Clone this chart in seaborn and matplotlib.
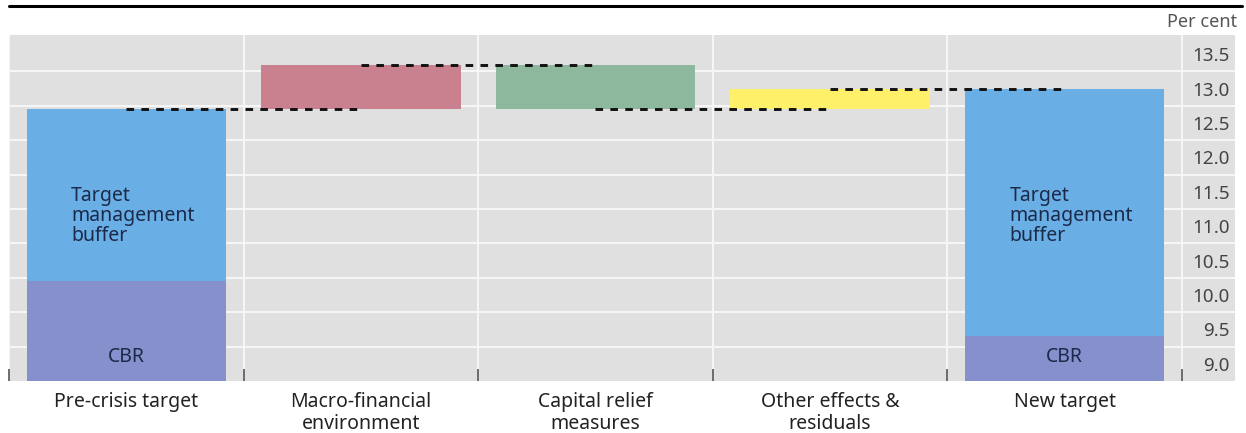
import numpy as np
import pandas as pd
import matplotlib.pyplot as plt
import seaborn as sns

# data (per cent)
steps = ["Pre-crisis target", "Macro-financial\nenvironment", "Capital relief\nmeasures",
         "Other effects &\nresiduals", "New target"]
pre_total = 12.7
changes = [0.65, -0.65, 0.3]
new_total = 13.0
cbr_steps = [steps[0], steps[4]]
cbr_values = [10.2, 9.4]
y_ticks = [9.0, 9.5, 10.0, 10.5, 11.0, 11.5, 12.0, 12.5, 13.0, 13.5]

colors = {"buffer": "#6aaee6", "cbr": "#8590cc", "up_macro": "#c9808f",
          "down": "#8db89e", "up_other": "#fff06a"}

# floating segments: buffer for the two targets, changes in between
level = [pre_total]
for c in changes:
    level.append(level[-1] + c)
lows = [cbr_values[0]] + [min(level[i], level[i + 1]) for i in range(3)] + [cbr_values[1]]
highs = [pre_total] + [max(level[i], level[i + 1]) for i in range(3)] + [new_total]
df = pd.DataFrame({"step": steps, "low": lows, "high": highs})
df["height"] = df["high"] - df["low"]
seg_colors = [colors["buffer"], colors["up_macro"], colors["down"], colors["up_other"], colors["buffer"]]

df_cbr = pd.DataFrame({"step": cbr_steps, "value": cbr_values})

sns.set_theme(style="white")
plt.rcParams["font.family"] = ["Noto Sans", "DejaVu Sans"]

fig = plt.figure(figsize=(12.46, 4.33), dpi=100)
ax = fig.add_axes([9 / 1246, 1 - 381 / 433, (1235 - 9) / 1246, (381 - 35) / 433])
ax.set_facecolor("#e0e0e0")

sns.barplot(data=df, x="step", y="height", order=steps, bottom=df["low"].to_numpy(),
            color=colors["buffer"], saturation=1, width=0.85, errorbar=None, linewidth=0, ax=ax)
sns.barplot(data=df_cbr, x="step", y="value", order=steps, color=colors["cbr"], saturation=1,
            width=0.85, errorbar=None, linewidth=0, ax=ax)
patches = ax.patches
for p, c in zip(patches[:5], seg_colors):
    p.set_facecolor(c)
for p in patches[5:]:
    p.set_facecolor(colors["cbr"])

# dashed connectors between consecutive steps
for i in range(4):
    ax.plot([i, i + 1], [level[i], level[i]], color="#111111", lw=2.1,
            ls=(0, (2.6, 2.5)), zorder=4)

ax.set_xlim(-0.5, 4.726)
ax.set_ylim(8.75, 13.78)

# labels in the bars
for i, cbr in zip([0, 4], cbr_values):
    ax.text(i - 0.425 + 0.19, 11.15, "Target\nmanagement\nbuffer", ha="left", va="center",
            fontsize=14, color="#1b2a49", linespacing=0.98, zorder=5)
    ax.text(i, 9.1, "CBR", ha="center", va="center", fontsize=14, color="#1b2a49", zorder=5)

# axes, grid, ticks
ax.set_xticks(range(5))
ax.set_xticklabels(steps, fontsize=14, color="#222222", linespacing=1.1)
ax.set_xticks(np.arange(-0.5, 5, 1), minor=True)
ax.tick_params(axis="x", which="major", length=0, pad=8)
ax.tick_params(axis="x", which="minor", direction="in", length=9, width=1.2,
               color="#555555", bottom=True)
ax.set_yticks(y_ticks)
ax.set_yticks(np.arange(9.25, 13.5, 0.5), minor=True)
ax.yaxis.tick_right()
ax.tick_params(axis="y", which="both", length=0, pad=-4, labelsize=13.5, labelcolor="#444444")
for lbl in ax.get_yticklabels():
    lbl.set_horizontalalignment("right")
ax.grid(False)
ax.grid(which="minor", axis="both", color="#f7f7f7", lw=1.4)
ax.set_axisbelow(True)
for s in ax.spines.values():
    s.set_visible(False)
ax.set_xlabel("")
ax.set_ylabel("")

fig.add_artist(plt.Line2D([9 / 1246, 1242 / 1246], [1 - 6 / 433] * 2, color="black", lw=2.2))
fig.text(1237 / 1246, 1 - 22 / 433, "Per cent", ha="right", va="center", fontsize=13, color="#555555")

fig.savefig("out.png", dpi=100)
